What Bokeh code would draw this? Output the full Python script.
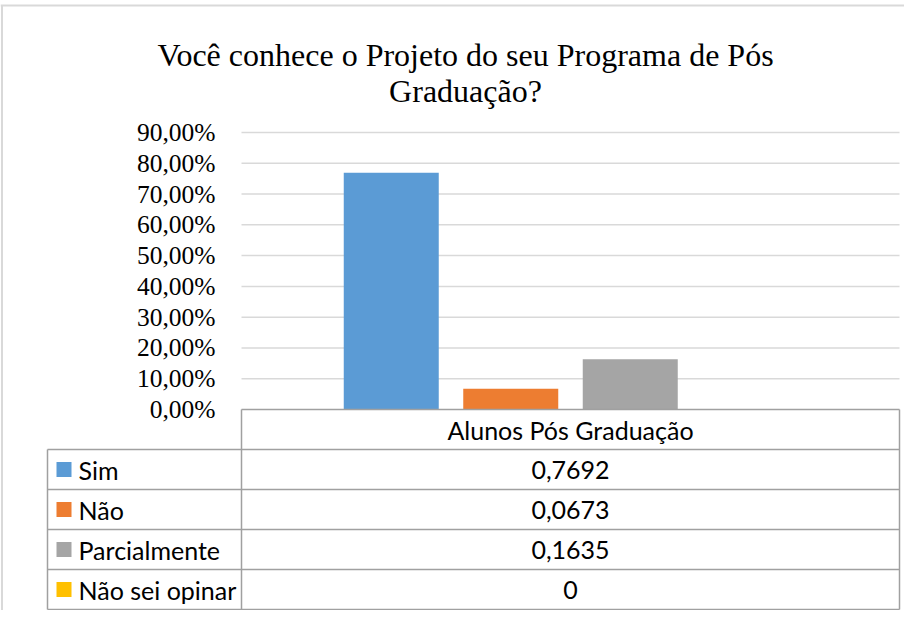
from bokeh.plotting import figure
from bokeh.models import Range1d
from bokeh.core.properties import value
from bokeh.embed import file_html
from bokeh.resources import INLINE

# ---- data ----
title_lines = ["Você conhece o Projeto do seu Programa de Pós", "Graduação?"]
category = "Alunos Pós Graduação"
series = ["Sim", "Não", "Parcialmente", "Não sei opinar"]
values = [0.7692, 0.0673, 0.1635, 0]
tick_values = [0.0, 0.1, 0.2, 0.3, 0.4, 0.5, 0.6, 0.7, 0.8, 0.9]
tick_labels = ["0,00%", "10,00%", "20,00%", "30,00%", "40,00%",
               "50,00%", "60,00%", "70,00%", "80,00%", "90,00%"]

# ---- style ----
colors = ["#5b9bd5", "#ed7d31", "#a5a5a5", "#ffc000"]
SERIF = value("Liberation Serif")
SANS = value("Lato")
GRID = "#d9d9d9"
TABLE = "#a0a0a0"

W, H = 904, 610
# layout (pixels in the figure)
plot_left, plot_right = 241, 899
zero_px, top_px, top_val = 409, 132, 0.9
legend_left = 47
header_bottom = 449
row_h = 40

p = figure(width=W, height=H, x_range=Range1d(0, W), y_range=Range1d(H, 0),
           output_backend="svg", toolbar_location=None, min_border=0,
           x_axis_location=None, y_axis_location=None,
           outline_line_color=None, background_fill_color="white",
           border_fill_color="white")
p.xgrid.visible = False
p.ygrid.visible = False

ppu = (zero_px - top_px) / top_val
p.extra_y_ranges = {"val": Range1d(-(H - zero_px) / ppu, zero_px / ppu)}
cat_w = plot_right - plot_left
cat_c = (plot_left + plot_right) / 2
p.extra_x_ranges = {"cat": Range1d(-cat_c / cat_w, (W - cat_c) / cat_w)}

# outer chart border
p.segment(x0=[1.5, 0], y0=[5, 5], x1=[1.5, W], y1=[H, 5], line_color=GRID, line_width=2)

# title
p.text(x=[465, 465], y=[54, 90], text=title_lines, text_font=SERIF,
       text_font_size=value("32px"), text_align="center",
       text_baseline="alphabetic", text_color="#000000")

# gridlines
p.segment(x0=plot_left, x1=plot_right, y0=tick_values[1:], y1=tick_values[1:],
          y_range_name="val", line_color=GRID, line_width=1.5)

# y tick labels
p.text(x=[plot_left - 26] * len(tick_values), y=tick_values, text=tick_labels,
       y_range_name="val", text_font=SERIF, text_font_size=value("25.5px"),
       text_align="right", text_baseline="middle", text_color="#000000")

# bars
n = len(series)
step = 119.5 / cat_w
bar_w = 95 / cat_w
xs = [(i - (n - 1) / 2) * step for i in range(n)]
p.vbar(x=xs, top=values, bottom=0, width=bar_w, fill_color=colors,
       line_color=None, x_range_name="cat", y_range_name="val")

# data table
row_tops = [header_bottom + i * row_h for i in range(n + 1)]
p.segment(x0=[plot_left] + [legend_left] * (n + 1),
          x1=[plot_right] * (n + 2),
          y0=[zero_px] + row_tops, y1=[zero_px] + row_tops,
          line_color=TABLE, line_width=1.5)
p.segment(x0=[legend_left, plot_left, plot_right],
          x1=[legend_left, plot_left, plot_right],
          y0=[header_bottom, zero_px, zero_px],
          y1=[row_tops[-1]] * 3, line_color=TABLE, line_width=1.5)

p.text(x=[cat_c], y=[(zero_px + header_bottom) / 2], text=[category],
       text_font=SANS, text_font_size=value("25px"), text_align="center",
       text_baseline="middle", text_color="#000000")

row_c = [header_bottom + row_h * (i + 0.5) for i in range(n)]
p.rect(x=[legend_left + 16.5] * n, y=row_c, width=15, height=15,
       fill_color=colors, line_color=None)
p.text(x=[legend_left + 31] * n, y=row_c, text=series, text_font=SANS,
       text_font_size=value("25px"), text_align="left", text_baseline="middle",
       text_color="#000000")
value_labels = [str(v).replace(".", ",") for v in values]
p.text(x=[cat_c] * n, y=row_c, text=value_labels, text_font=SANS,
       text_font_size=value("25px"), text_align="center", text_baseline="middle",
       text_color="#000000")

open("out.html", "w").write(file_html(p, INLINE))
